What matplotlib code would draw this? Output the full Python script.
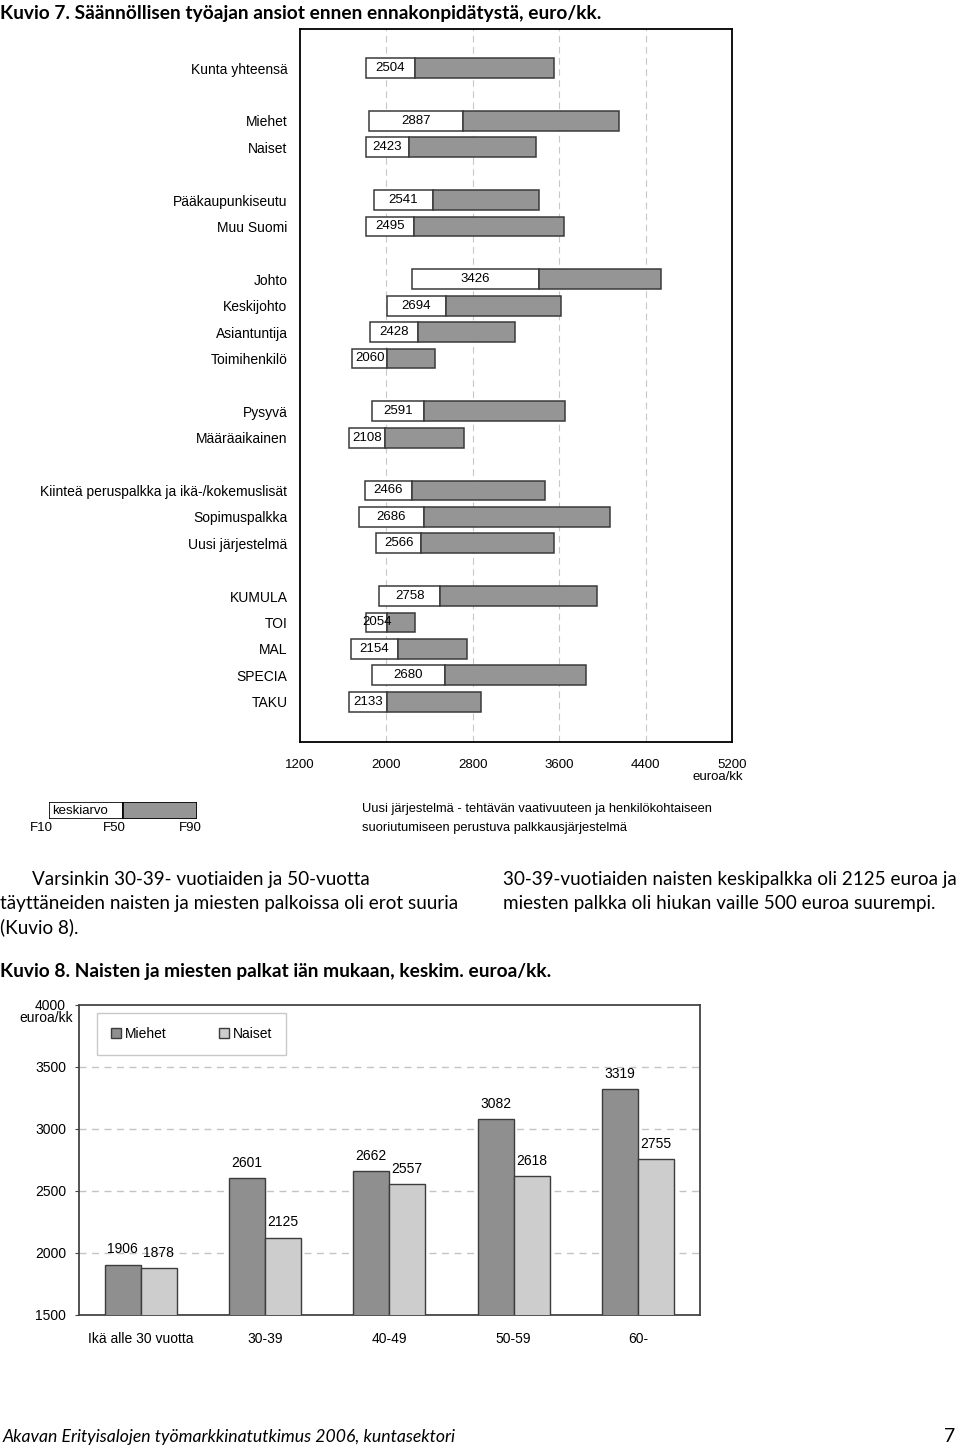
import numpy as np
import matplotlib
matplotlib.use("Agg")
import matplotlib.pyplot as plt
from matplotlib.patches import Patch

W, H = 960, 1450

# --- Kuvio 7 data: deciles F10 / F50 / F90 and mean, euro/kk ---
labels7 = ["Kunta yhteensä",
           "Miehet", "Naiset",
           "Pääkaupunkiseutu", "Muu Suomi",
           "Johto", "Keskijohto", "Asiantuntija", "Toimihenkilö",
           "Pysyvä", "Määräaikainen",
           "Kiinteä peruspalkka ja ikä-/kokemuslisät", "Sopimuspalkka", "Uusi järjestelmä",
           "KUMULA", "TOI", "MAL", "SPECIA", "TAKU"]
group_sizes = [1, 2, 2, 4, 2, 3, 5]
f10 = [1810, 1838, 1810, 1884, 1810, 2240, 2002, 1850, 1686, 1867, 1658,
       1799, 1742, 1906, 1935, 1810, 1675, 1867, 1658]
f50 = [2262, 2709, 2211, 2432, 2251, 3409, 2556, 2290, 2008, 2347, 1991,
       2240, 2347, 2324, 2494, 2008, 2104, 2539, 2008]
f90 = [3550, 4155, 3387, 3409, 3641, 4539, 3618, 3194, 2449, 3658, 2714,
       3466, 4070, 3550, 3946, 2268, 2748, 3850, 2872]
mean7 = [2504, 2887, 2423, 2541, 2495, 3426, 2694, 2428, 2060, 2591, 2108,
         2466, 2686, 2566, 2758, 2054, 2154, 2680, 2133]
ticks7 = [1200, 2000, 2800, 3600, 4400, 5200]

# --- Kuvio 8 data ---
ages = ["Ikä alle 30 vuotta", "30-39", "40-49", "50-59", "60-"]
miehet = [1906, 2601, 2662, 3082, 3319]
naiset = [1878, 2125, 2557, 2618, 2755]
ticks8 = [1500, 2000, 2500, 3000, 3500, 4000]

ARIAL = ["Liberation Sans", "DejaVu Sans"]
BODY = ["Lato", "DejaVu Sans"]


def box(l, t, r, b):
    return [l / W, 1 - b / H, (r - l) / W, (b - t) / H]


def ft(x, y, s, **kw):
    fig.text(x / W, 1 - y / H, s, **kw)


fig = plt.figure(figsize=(W / 100, H / 100), dpi=100)

# titles and body text
ft(0, 13, "Kuvio 7. Säännöllisen työajan ansiot ennen ennakonpidätystä, euro/kk.",
   family=BODY, fontweight="bold", fontsize=13.8, va="center")
ft(0, 972, "Kuvio 8. Naisten ja miesten palkat iän mukaan, keskim. euroa/kk.",
   family=BODY, fontweight="bold", fontsize=13.8, va="center")
left_lines = ["Varsinkin 30-39- vuotiaiden ja 50-vuotta",
              "täyttäneiden naisten ja miesten palkoissa oli erot suuria",
              "(Kuvio 8)."]
right_lines = ["30-39-vuotiaiden naisten keskipalkka oli 2125 euroa ja",
               "miesten palkka oli hiukan vaille 500 euroa suurempi."]
for i, s in enumerate(left_lines):
    ft(32 if i == 0 else 0, 880 + 23.5 * i, s, family=BODY, fontsize=13.6, va="center")
for i, s in enumerate(right_lines):
    ft(503, 880 + 24 * i, s, family=BODY, fontsize=13.6, va="center")
ft(3, 1437, "Akavan Erityisalojen työmarkkinatutkimus 2006, kuntasektori",
   family=BODY, fontstyle="italic", fontsize=12.7, va="center")
ft(955, 1437, "7", family=BODY, fontsize=14, va="center", ha="right")

# ---------------- Kuvio 7 ----------------
ax = fig.add_axes(box(300, 29, 732, 742))
pos = []
p = 0
for g in group_sizes:
    pos.extend(range(p, p + g))
    p += g + 1
pos = np.array(pos)
f10a, f50a, f90a = np.array(f10), np.array(f50), np.array(f90)
edge = "#3a3a3a"
ax.barh(pos, f50a - f10a, left=f10a, height=0.75, color="white",
        edgecolor=edge, linewidth=1.1, zorder=3)
ax.barh(pos, f90a - f50a, left=f50a, height=0.75, color="#959595",
        edgecolor=edge, linewidth=1.1, zorder=3)
for y, a, b, m in zip(pos, f10a, f50a, mean7):
    ax.text((a + b) / 2, y, str(m), ha="center", va="center",
            family=ARIAL, fontsize=9.5, zorder=4)
ax.set_xlim(1200, 5200)
ax.set_ylim(25.53, -1.48)
ax.set_xticks(ticks7)
ax.set_xticklabels([str(t) for t in ticks7], family=ARIAL, fontsize=9.5)
ax.set_yticks(pos)
ax.set_yticklabels(labels7, family=ARIAL, fontsize=10)
ax.tick_params(axis="x", length=0, pad=12)
ax.tick_params(axis="y", length=0, pad=9)
for t in ticks7[1:-1]:
    ax.axvline(t, color="#c8c8c8", lw=0.8, dashes=(6, 4), zorder=1)
for s in ax.spines.values():
    s.set_linewidth(1.3)
    s.set_color("black")
ft(743, 777, "euroa/kk", family=ARIAL, fontsize=9.5, ha="right", va="center")

# key for Kuvio 7
kx = fig.add_axes(box(49, 802, 197, 819))
kx.barh([0], [50 - 10], left=[10], height=1, color="white", edgecolor="black", lw=1.2)
kx.barh([0], [90 - 50], left=[50], height=1, color="#959595", edgecolor="black", lw=1.2)
kx.set_xlim(10, 90)
kx.set_ylim(-0.5, 0.5)
kx.axis("off")
kx.text(11.5, 0, "keskiarvo", family=ARIAL, fontsize=9.5, va="center", ha="left")
for x, s in [(41, "F10"), (114, "F50"), (190, "F90")]:
    ft(x, 828, s, family=ARIAL, fontsize=9.5, ha="center", va="center")
ft(362, 809, "Uusi järjestelmä - tehtävän vaativuuteen ja henkilökohtaiseen",
   family=ARIAL, fontsize=9.3, va="center")
ft(362, 828, "suoriutumiseen perustuva palkkausjärjestelmä",
   family=ARIAL, fontsize=9.3, va="center")

# ---------------- Kuvio 8 ----------------
bx = fig.add_axes(box(78.5, 1005, 700, 1315))
x = np.arange(len(ages))
bw = 0.29
dark, light = "#8f8f8f", "#cdcdcd"
b1 = bx.bar(x - bw / 2, miehet, bw, color=dark, edgecolor="#3c3c3c", lw=1, zorder=3)
b2 = bx.bar(x + bw / 2, naiset, bw, color=light, edgecolor="#3c3c3c", lw=1, zorder=3)
for bars, vals in [(b1, miehet), (b2, naiset)]:
    for r, v in zip(bars, vals):
        bx.annotate(str(v), (r.get_x() + r.get_width() / 2, v), xytext=(0, 11),
                    textcoords="offset points", ha="center", va="center",
                    family=ARIAL, fontsize=10)
bx.set_xlim(-0.5, 4.5)
bx.set_ylim(1500, 4000)
bx.set_yticks(ticks8)
bx.set_yticklabels([str(t) for t in ticks8], family=ARIAL, fontsize=10)
bx.set_xticks(x)
bx.set_xticklabels(ages, family=ARIAL, fontsize=10)
bx.tick_params(axis="x", length=0, pad=12)
bx.tick_params(axis="y", length=3, color="#444444", pad=6)
for t in ticks8[1:-1]:
    bx.axhline(t, color="#c4c4c4", lw=1, dashes=(5, 4), zorder=1)
for s in bx.spines.values():
    s.set_linewidth(1.3)
    s.set_color("#444444")
ft(73, 1018, "euroa/kk", family=ARIAL, fontsize=10, ha="right", va="center")
leg = bx.legend(handles=[Patch(facecolor=dark, edgecolor="#3c3c3c", label="Miehet"),
                         Patch(facecolor=light, edgecolor="#3c3c3c", label="Naiset")],
                loc="upper left", bbox_to_anchor=(0.0298, 0.974), borderaxespad=0,
                ncol=2, prop={"family": ARIAL, "size": 10},
                handlelength=0.7, handleheight=0.7, handletextpad=0.3,
                columnspacing=3.8, borderpad=1.0,
                fancybox=False, framealpha=1, edgecolor="#c8c8c8")
leg.get_frame().set_linewidth(1)

fig.savefig("out.png", dpi=100)
